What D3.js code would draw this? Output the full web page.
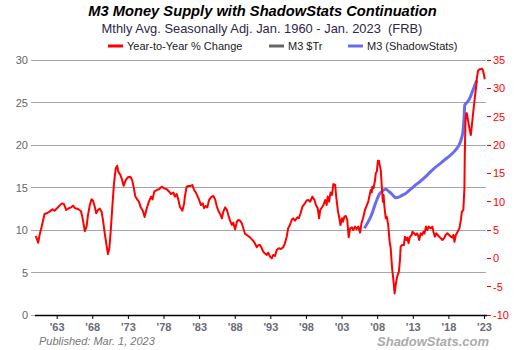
<!DOCTYPE html>
<html><head><meta charset="utf-8">
<script src="https://cdn.jsdelivr.net/npm/d3@7"></script>
<style>
html,body{margin:0;padding:0;background:#fff;}
svg{display:block;font-family:Arial,"Liberation Sans",sans-serif;}
</style></head>
<body><svg id="c" width="525" height="350"></svg>
<script>
// ---- data ----
const leftTicks = [0, 5, 10, 15, 20, 25, 30];
const rightTicks = [-10, -5, 0, 5, 10, 15, 20, 25, 30, 35];
const yearTicks = [1963, 1968, 1973, 1978, 1983, 1988, 1993, 1998, 2003, 2008, 2013, 2018, 2023];
const yearTickLabels = ["'63","'68","'73","'78","'83","'88","'93","'98","'03","'08","'13","'18","'23"];
const legendLabels = ["Year-to-Year % Change", "M3 $Tr", "M3 (ShadowStats)"];

// Year-to-year % change (right axis)
const yoyYears = [1960.05,1960.2,1960.4,1960.6,1960.95,1961.3,1961.6,1962.0,1962.4,1962.7,1963.05,1963.4,1963.75,1964.0,1964.35,1964.7,1965.05,1965.3,1965.6,1966.0,1966.4,1966.6,1966.8,1966.95,1967.2,1967.4,1967.65,1967.9,1968.1,1968.35,1968.55,1968.8,1969.05,1969.3,1969.5,1969.75,1970.0,1970.2,1970.4,1970.6,1970.8,1971.05,1971.3,1971.5,1971.65,1971.95,1972.2,1972.4,1972.7,1973.0,1973.35,1973.6,1973.8,1974.05,1974.3,1974.55,1974.8,1975.1,1975.35,1975.65,1975.95,1976.25,1976.45,1976.7,1977.05,1977.35,1977.75,1978.1,1978.45,1978.8,1979.05,1979.4,1979.6,1979.85,1980.1,1980.3,1980.65,1980.9,1981.0,1981.25,1981.5,1981.8,1982.05,1982.3,1982.55,1982.8,1983.0,1983.25,1983.5,1983.7,1983.9,1984.15,1984.4,1984.7,1985.0,1985.25,1985.5,1985.7,1985.95,1986.2,1986.4,1986.65,1986.9,1987.1,1987.35,1987.6,1987.8,1988.05,1988.3,1988.5,1988.75,1989.0,1989.2,1989.45,1989.7,1989.9,1990.15,1990.4,1990.6,1990.85,1991.1,1991.3,1991.55,1991.8,1992.0,1992.2,1992.5,1992.7,1992.95,1993.2,1993.4,1993.65,1993.9,1994.2,1994.5,1994.8,1995.05,1995.3,1995.5,1995.75,1996.0,1996.2,1996.45,1996.8,1997.0,1997.25,1997.5,1997.8,1998.1,1998.35,1998.6,1998.9,1999.2,1999.4,1999.65,1999.85,2000.0,2000.25,2000.45,2000.7,2000.9,2001.05,2001.25,2001.45,2001.65,2001.85,2002.1,2002.25,2002.5,2002.65,2002.85,2003.05,2003.2,2003.4,2003.6,2003.8,2004.0,2004.2,2004.45,2004.65,2004.9,2005.1,2005.35,2005.6,2005.8,2006.05,2006.3,2006.5,2006.75,2006.9,2007.1,2007.25,2007.3,2007.5,2007.7,2007.8,2007.95,2008.1,2008.25,2008.35,2008.5,2008.65,2008.8,2008.9,2009.0,2009.2,2009.35,2009.55,2009.75,2009.9,2010.1,2010.3,2010.45,2010.6,2010.8,2011.05,2011.2,2011.3,2011.5,2011.75,2011.9,2012.1,2012.25,2012.4,2012.6,2012.85,2012.95,2013.2,2013.4,2013.6,2013.8,2013.9,2014.1,2014.3,2014.5,2014.65,2014.85,2015.05,2015.25,2015.5,2015.75,2015.9,2016.1,2016.3,2016.5,2016.7,2016.95,2017.15,2017.4,2017.6,2017.85,2018.1,2018.35,2018.55,2018.7,2018.85,2019.05,2019.3,2019.55,2019.75,2019.9,2020.1,2020.25,2020.3,2020.4,2020.5,2020.6,2020.75,2020.95,2021.15,2021.3,2021.45,2021.6,2021.75,2021.9,2022.0,2022.15,2022.35,2022.5,2022.7,2022.85,2023.0,2023.1];
const yoyValues = [3.94,3.5,2.76,4.1,5.9,7.83,7.95,8.24,8.65,8.4,8.83,9.3,9.7,9.6,8.53,8.83,9.0,9.3,8.83,8.7,8.35,7.35,5.9,4.8,5.6,7.65,9.4,10.4,10.2,9.1,7.95,8.53,8.77,8.24,6.8,4.4,2.35,0.77,1.77,5.0,8.83,13.24,15.9,16.35,15.3,14.7,13.8,12.8,13.8,14.3,14.4,13.8,12.64,10.9,10.4,10.0,9.0,8.4,7.3,8.83,10.0,10.9,10.4,11.76,12.06,12.2,12.64,12.35,12.2,11.76,11.35,11.6,10.9,11.35,10.3,9.1,8.4,9.7,10.9,12.64,12.77,12.77,12.94,12.06,11.6,10.9,10.3,9.4,9.7,8.83,9.24,9.0,10.3,10.8,11.0,10.4,9.1,8.4,7.83,7.07,8.24,9.0,8.53,7.65,6.64,5.9,6.3,5.1,6.47,6.77,6.64,6.18,5.3,4.3,4.12,3.94,3.7,3.35,3.1,2.6,1.95,2.3,2.35,1.77,1.18,0.9,0.6,1.0,0.3,0.0,0.6,0.41,1.47,1.77,1.65,1.95,2.65,3.82,5.3,5.88,6.77,7.07,6.64,7.24,7.07,7.95,9.12,9.6,10.2,10.3,10.0,10.9,10.3,9.4,8.83,7.07,8.53,9.0,9.4,10.3,9.4,10.9,10.0,11.6,11.18,13.1,12.94,10.9,8.24,7.35,5.88,7.07,6.47,7.35,7.47,6.77,3.7,5.3,5.47,5.0,5.6,5.12,5.6,4.53,6.18,7.24,8.6,9.2,10.0,10.9,12.06,11.65,12.64,12.35,13.82,15.0,15.3,17.2,17.2,16.5,15.6,12.64,10.0,11.18,9.4,7.07,7.35,5.88,2.94,1.77,-1.76,-4.1,-6.2,-4.7,-3.24,-2.35,-0.3,2.06,2.35,2.35,3.82,3.24,3.65,2.65,3.82,4.12,4.7,4.41,4.12,4.41,3.82,3.24,4.41,4.12,4.7,4.41,5.6,5.0,5.6,5.3,5.6,4.7,3.82,4.41,4.12,3.82,3.53,3.24,3.53,4.12,4.41,4.12,3.82,3.65,4.12,2.94,4.12,4.7,5.3,6.77,8.24,8.53,12.35,18.2,24.1,25.6,25.6,24.4,22.95,21.76,23.5,25.3,27.06,28.8,30.3,31.8,33.06,33.35,33.35,33.5,33.2,32.35,31.6];

// M3 ShadowStats continuation, $ trillions (left axis)
const ssYears = [2006.2,2006.75,2007.2,2007.6,2008.0,2008.3,2008.75,2009.2,2009.7,2010.2,2010.6,2011.1,2011.55,2012.0,2012.7,2013.4,2014.1,2014.8,2015.5,2016.2,2016.9,2017.6,2018.3,2019.0,2019.5,2019.85,2020.05,2020.2,2020.3,2020.5,2020.8,2021.1,2021.4,2021.75,2022.0];
const ssValues = [10.2,10.98,11.76,12.75,13.65,14.2,14.6,14.78,14.5,14.1,13.8,13.9,14.1,14.3,14.8,15.3,15.76,16.27,16.86,17.4,17.84,18.35,18.8,19.4,20.0,20.8,21.6,23.1,24.7,24.9,25.2,25.7,26.35,27.1,27.6];

// ---- chart ----
const svg = d3.select("#c");
const L = 35, R = 486, T = 60, B = 315;
const x = d3.scaleLinear().domain([1960, 2023]).range([35.3, 484]);
const yL = d3.scaleLinear().domain([0, 30]).range([B, T]);
const yR = d3.scaleLinear().domain([-10, 35]).range([B, T]);

// gridlines + left axis
const gl = svg.append("g");
leftTicks.filter(d => d > 0).forEach(d => {
  gl.append("line").attr("x1", 31).attr("x2", R).attr("y1", yL(d)).attr("y2", yL(d))
    .attr("stroke", "#a6a6a6").attr("stroke-width", 1).attr("shape-rendering","crispEdges");
});
leftTicks.forEach(d => {
  gl.append("text").attr("x", 28).attr("y", yL(d) + 4).attr("text-anchor", "end")
    .attr("font-size", 11).attr("fill", "#666").text(d);
});
gl.append("line").attr("x1", 31).attr("x2", L).attr("y1", B).attr("y2", B).attr("stroke", "#a6a6a6").attr("shape-rendering","crispEdges");

// right axis
rightTicks.forEach(d => {
  gl.append("line").attr("x1", 487).attr("x2", 491).attr("y1", yR(d)).attr("y2", yR(d))
    .attr("stroke", "#ff0000").attr("stroke-width", 1).attr("shape-rendering","crispEdges");
  gl.append("text").attr("x", 493).attr("y", yR(d) + 4)
    .attr("font-size", 11).attr("fill", "#ff0000").text(d);
});

// bottom axis
const xa = svg.append("g").attr("transform", `translate(0,${B})`)
  .call(d3.axisBottom(x).tickValues(yearTicks).tickSize(4).tickSizeOuter(0)
    .tickFormat((d, i) => yearTickLabels[i]));
xa.select(".domain").attr("d", `M${L},0.5H${R+1}`).attr("stroke", "#000").attr("stroke-width", 1.3);
xa.selectAll(".tick line").attr("stroke", "#000");
xa.selectAll(".tick text").attr("font-size", 11).attr("font-weight", "bold")
  .attr("font-family", "Arial, 'Liberation Sans', sans-serif").attr("fill", "#6b6b78").attr("dy", "0.8em");

// lines
const ssData = ssYears.map((y, i) => [y, ssValues[i]]);
const yoyData = yoyYears.map((y, i) => [y, yoyValues[i]]);
svg.append("path").datum(ssData)
  .attr("d", d3.line().x(d => x(d[0])).y(d => yL(d[1])).curve(d3.curveMonotoneX))
  .attr("fill", "none").attr("stroke", "#6b6bef").attr("stroke-width", 3).attr("stroke-linejoin","round");
svg.append("path").datum(yoyData)
  .attr("d", d3.line().x(d => x(d[0])).y(d => yR(d[1])))
  .attr("fill", "none").attr("stroke", "#ff0000").attr("stroke-width", 2).attr("stroke-linejoin","round");

// titles
svg.append("text").attr("x", 262.5).attr("y", 16).attr("text-anchor", "middle")
  .attr("font-size", 14.7).attr("font-weight", "bold").attr("font-style", "italic").attr("fill", "#000")
  .text("M3 Money Supply with ShadowStats Continuation");
svg.append("text").attr("x", 262).attr("y", 33).attr("text-anchor", "middle")
  .attr("font-size", 12.9).attr("fill", "#2e2846").style("white-space", "pre")
  .text("Mthly Avg. Seasonally Adj. Jan. 1960 - Jan. 2023  (FRB)");

// legend
const legColors = ["#ff0000", "#666666", "#6b6bef"];
const legX = [108, 269, 348];
legendLabels.forEach((t, i) => {
  svg.append("line").attr("x1", legX[i]).attr("x2", legX[i] + 15).attr("y1", 46).attr("y2", 46)
    .attr("stroke", legColors[i]).attr("stroke-width", 3);
  svg.append("text").attr("x", legX[i] + 19).attr("y", 50).attr("font-size", 11).attr("fill", "#222").text(t);
});

// footer
svg.append("text").attr("x", 39).attr("y", 345).attr("font-size", 11).attr("font-style", "italic")
  .attr("fill", "#777").text("Published: Mar. 1, 2023");
svg.append("text").attr("x", 489).attr("y", 345.5).attr("text-anchor", "end").attr("font-size", 13)
  .attr("font-weight", "bold").attr("font-style", "italic").attr("fill", "#ababab").text("ShadowStats.com");
</script></body></html>
